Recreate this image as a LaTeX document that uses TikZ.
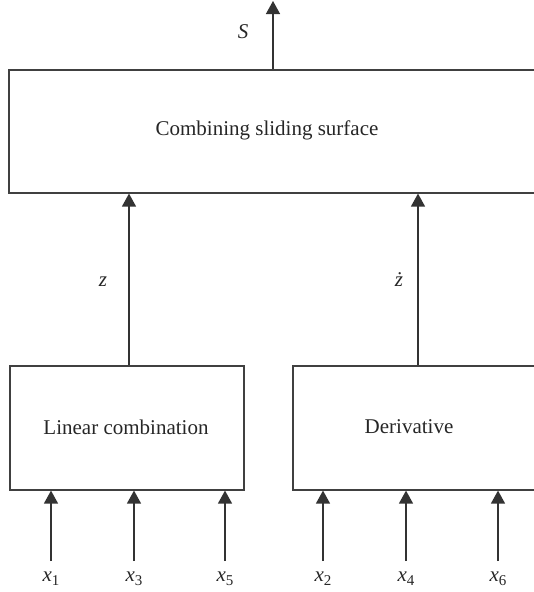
\documentclass[tikz,border=0pt]{standalone}
\usepackage{fontspec}
\setmainfont{Liberation Serif}
\usetikzlibrary{arrows.meta}
\newcommand{\subvar}[2]{\textit{#1}\raisebox{-0.4ex}{\fontsize{15}{17}\selectfont #2}}
\begin{document}
\begin{tikzpicture}[x=1pt,y=-1pt,
  blk/.style={draw=black!75, line width=1.6pt, rectangle, inner sep=0pt, anchor=north west},
  conn/.style={draw=black!80, line width=1.4pt, -{Triangle[length=13pt,width=14pt]}},
  txt/.style={font=\fontsize{21}{25}\selectfont, inner sep=0pt, text=black!85}
]
\useasboundingbox (0,0) rectangle (534,592);
% blocks
\node[blk, minimum width=540pt, minimum height=123pt] (comb) at (8,69) {};
\node[txt] (combt) at (267,130) {Combining sliding surface};
\node[blk, minimum width=234pt, minimum height=124pt] (lin) at (9,365) {};
\node[txt] (lint) at (126,427) {Linear combination};
\node[blk, minimum width=250pt, minimum height=124pt] (der) at (292,365) {};
\node[txt] (dert) at (409,427) {Derivative};
% output
\coordinate (sout) at (273,1);
\draw[conn] (comb.north -| sout) -- (sout);
\node[txt] (slab) at (243,32) {\textit{S}};
% z and zdot
\coordinate (za) at (129,0);
\coordinate (zb) at (418,0);
\draw[conn] (za |- lin.north) -- (za |- comb.south);
\draw[conn] (zb |- der.north) -- (zb |- comb.south);
\node[txt] (zlab) at (103,282) {\textit{z}};
\node[txt] (zdlab) at (399,280) {\textit{ż}};
% inputs
\foreach \n/\xx/\bx in {1/51/lin,3/134/lin,5/225/lin,2/323/der,4/406/der,6/498/der}{
  \coordinate (in\n) at (\xx,561);
  \draw[conn] (in\n) -- (in\n |- \bx.south);
  \node[txt] (xl\n) at (\xx,579) {\subvar{x}{\n}};
}
\end{tikzpicture}
\end{document}
